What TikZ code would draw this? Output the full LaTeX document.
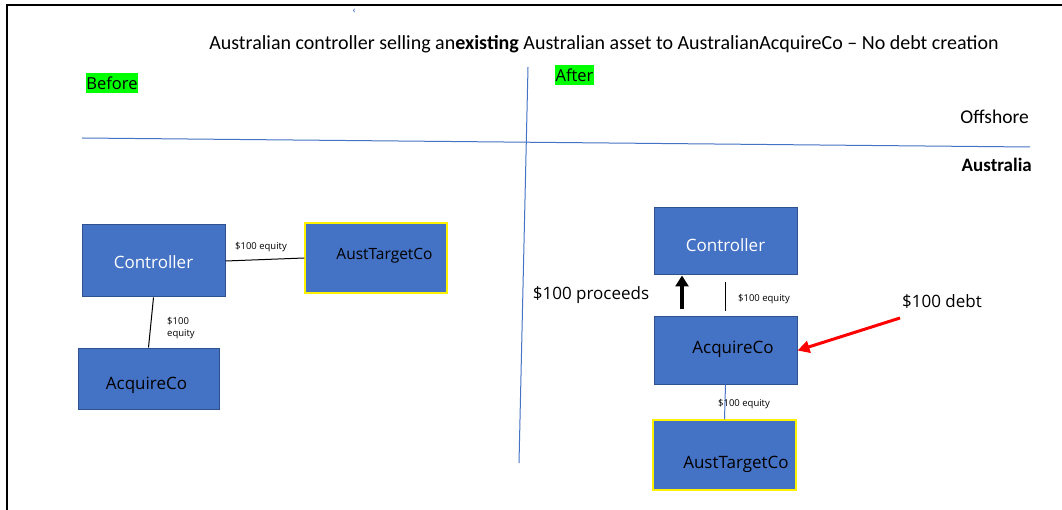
\documentclass[tikz,border=0pt]{standalone}
\usepackage{fontspec}
\setmainfont{Carlito}
\newfontfamily\osans{Open Sans}
\usetikzlibrary{arrows.meta}
\definecolor{boxblue}{HTML}{4472C4}
\definecolor{boxedge}{HTML}{2F528F}
\definecolor{hlgreen}{HTML}{00FF00}
\definecolor{divblue}{HTML}{4472C4}
\tikzset{
  entity/.style={draw=boxedge, fill=boxblue, line width=1pt, inner sep=0pt},
  yentity/.style={entity, draw=yellow, line width=1.5pt},
  boxtext/.style={font=\osans\fontsize{17}{20}\selectfont, text=black, inner sep=0pt},
  wboxtext/.style={boxtext, text=white},
  small/.style={font=\osans\fontsize{9.5}{12}\selectfont, inner sep=0pt, align=left},
  hl/.style={fill=hlgreen, font=\osans\fontsize{16.5}{19}\selectfont, inner xsep=0.5pt, inner ysep=0pt, minimum height=20pt},
  divider/.style={draw=divblue, line width=1pt},
  equityline/.style={draw=black, line width=1pt},
  biglabel/.style={font=\osans\fontsize{17}{20}\selectfont, inner sep=0pt},
}
\begin{document}
\begin{tikzpicture}[x=1pt,y=-1pt]
\useasboundingbox (0,0) rectangle (1062,510);
% frame
\draw[line width=2pt] (6,5) -- (1062,5);
\draw[line width=2pt] (7,5) -- (7,510);
\node[font=\bfseries\fontsize{10}{11}\selectfont, text=divblue, inner sep=0pt] (mark) at (354,11) {‹};
% title
\node[font=\fontsize{20}{23}\selectfont, inner sep=0pt] (title) at (604,44) {Australian controller selling an\textbf{existing} Australian asset to AustralianAcquireCo – No debt creation};
% before / after
\node[hl] (before) at (112,83) {Before};
\node[hl] (after) at (574.5,75) {After};
% dividers
\coordinate (hA) at (82,138);
\coordinate (hB) at (1030,147);
\coordinate (vA) at (528,67);
\coordinate (vB) at (519,463);
\draw[divider] (hA) -- (hB);
\draw[divider] (vA) -- (vB);
\node[font=\fontsize{19.5}{22}\selectfont, anchor=east, inner sep=0pt] (off) at (1029,117) {Offshore};
\node[font=\bfseries\fontsize{19}{22}\selectfont, anchor=east, inner sep=0pt] (aus) at (1032,165) {Australia};
% before
\node[entity, minimum width=143pt, minimum height=72pt,
  label={[wboxtext,yshift=-1pt]center:Controller}] (ctrlL) at (153.5,261) {};
\node[yentity, minimum width=142pt, minimum height=70pt,
  label={[boxtext,font=\osans\fontsize{15.5}{18}\selectfont,xshift=8.5pt,yshift=2pt]center:AustTargetCo}] (atcL) at (376,258) {};
\node[entity, minimum width=141pt, minimum height=61pt,
  label={[boxtext,xshift=-2pt,yshift=-6.5pt]center:AcquireCo}] (acqL) at (148.5,378.5) {};
\draw[equityline] (ctrlL.east) -- (atcL.west);
\draw[equityline] (ctrlL.south) -- (acqL.north);
\node[small] (eq1) at (261,247) {\$100 equity};
\node[small, anchor=west] (eq2) at (167,328) {\$100\\equity};
% after
\node[entity, minimum width=143pt, minimum height=67pt,
  label={[wboxtext,yshift=-3.5pt]center:Controller}] (ctrlR) at (725.5,241.5) {};
\node[entity, minimum width=143pt, minimum height=67pt,
  label={[boxtext,xshift=7.5pt,yshift=1.5pt]center:AcquireCo}] (acqR) at (725.5,350.5) {};
\node[yentity, minimum width=143pt, minimum height=70pt,
  label={[boxtext,xshift=11.5pt,yshift=-9pt]center:AustTargetCo}] (atcR) at (724.5,455) {};
\draw[equityline, shorten <=7pt, shorten >=5pt] (ctrlR.south) -- (acqR.north);
\node[small] (eq3) at (764,299) {\$100 equity};
\draw[divider] (acqR.south) -- (atcR.north);
\node[small] (eq4) at (744,404) {\$100 equity};
\draw[line width=3.5pt, -{Triangle[length=11pt,width=13pt]}] ([xshift=-43.5pt,yshift=7pt]acqR.north) -- ([xshift=-43.5pt]ctrlR.south);
\node[biglabel] (proc) at (591,295) {\$100 proceeds};
\coordinate (debtstart) at (900,318);
\draw[red, line width=3pt, -{Triangle[length=12pt,width=12pt]}] (debtstart) -- (acqR.east);
\node[biglabel] (debt) at (942,302) {\$100 debt};
\end{tikzpicture}
\end{document}
